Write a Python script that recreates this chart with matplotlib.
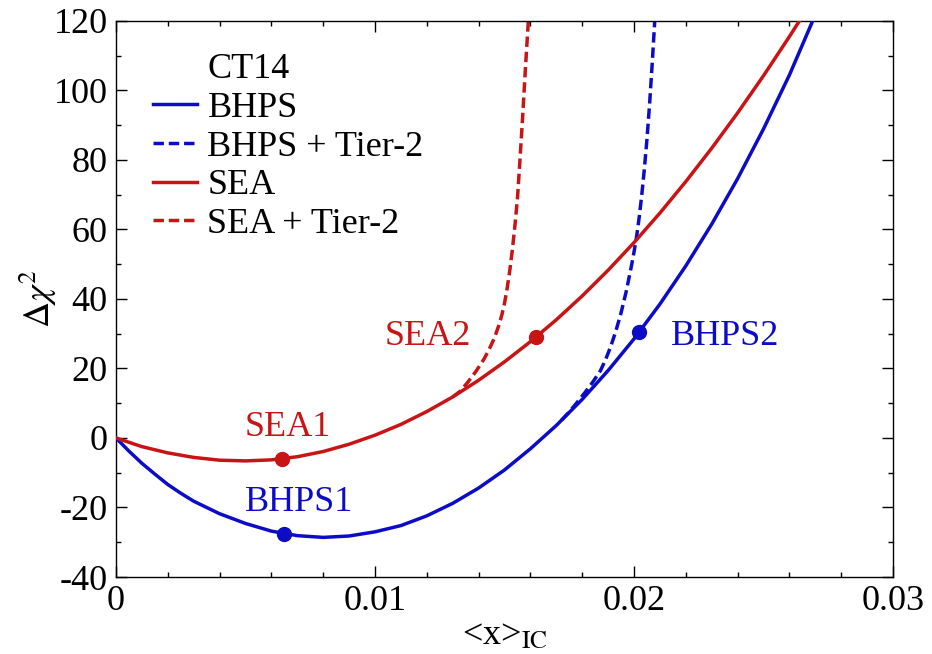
import matplotlib
matplotlib.use("Agg")
import matplotlib.pyplot as plt
from matplotlib.ticker import MultipleLocator

plt.rcParams['font.family'] = ['Liberation Serif', 'DejaVu Serif']
plt.rcParams['mathtext.fontset'] = 'stix'
plt.rcParams['font.size'] = 26
plt.rcParams['axes.unicode_minus'] = False

blue = '#0c0cc8'
red = '#c81414'
lw = 2.5
dash = (3.0, 1.4)

# delta chi^2 scans vs intrinsic charm momentum fraction
bhps_x = [0, 0.0005, 0.001, 0.0015, 0.002, 0.0025, 0.003, 0.004, 0.005, 0.006,
          0.007, 0.008, 0.009, 0.010, 0.011, 0.012, 0.013, 0.014, 0.015,
          0.016, 0.017, 0.018, 0.019, 0.020, 0.021, 0.022, 0.023, 0.024,
          0.025, 0.026, 0.0269]
bhps_y = [0, -3.8, -7.3, -10.4, -13.4, -15.9, -18.2, -21.8, -24.6, -26.8,
          -28.1, -28.6, -28.2, -27.0, -25.2, -22.4, -18.8, -14.4, -9.2,
          -3.1, 3.6, 11.1, 19.4, 28.5, 38.5, 49.5, 61.5, 74.6,
          88.9, 104.4, 120.0]

bhps_t2_x = [0.0172, 0.0175, 0.0178, 0.0181, 0.0184, 0.0187, 0.0189, 0.0191,
             0.0193, 0.0195, 0.0197, 0.0199, 0.0200, 0.0201, 0.0202, 0.0203,
             0.0204, 0.0205, 0.0206, 0.0207, 0.0208]
bhps_t2_y = [5.1, 7.5, 10.2, 13.0, 16.0, 19.3, 22.5, 26.3,
             30.8, 36.0, 42.2, 49.5, 53.5, 58.0, 63.5, 70.0,
             77.5, 86.0, 96.0, 107.5, 120.0]

sea_x = [0, 0.001, 0.002, 0.003, 0.004, 0.005, 0.006, 0.007, 0.008, 0.009,
         0.010, 0.011, 0.012, 0.013, 0.014, 0.015, 0.016, 0.017, 0.018,
         0.019, 0.020, 0.021, 0.022, 0.023, 0.024, 0.025, 0.026, 0.0265]
sea_y = [0, -2.5, -4.3, -5.6, -6.4, -6.6, -6.3, -5.4, -3.9, -1.8,
         0.8, 3.9, 7.6, 11.8, 16.6, 21.9, 27.7, 34.0, 40.85,
         48.25, 56.2, 64.7, 73.75, 83.35, 93.5, 104.2, 115.45, 121.3]

sea_t2_x = [0.0130, 0.0133, 0.0136, 0.0139, 0.0142, 0.0144, 0.0146, 0.0148,
            0.0149, 0.0150, 0.0151, 0.0152, 0.0153, 0.0154, 0.0155, 0.0156,
            0.0157, 0.0158, 0.01592]
sea_t2_y = [11.8, 13.5, 16.2, 19.2, 22.6, 25.4, 28.6, 32.8,
            35.5, 38.8, 43.0, 48.0, 54.0, 61.0, 69.0, 80.5,
            92.5, 105.5, 120.0]

# fit points
pt_names = ['SEA1', 'BHPS1', 'SEA2', 'BHPS2']
pt_x = [0.0064, 0.0065, 0.0162, 0.0202]
pt_y = [-6.0, -27.5, 29.0, 30.5]
pt_colors = [red, blue, red, blue]
lab_x = [0.00662, 0.00705, 0.01203, 0.02351]
lab_y = [0.6, -20.9, 26.6, 26.6]

fig = plt.figure(figsize=(9.32, 6.54), dpi=100)
ax = fig.add_axes([0.1245, 0.1177, 0.8337, 0.8506])

ax.plot([], [], color='none', label='CT14')
ax.plot(bhps_t2_x, bhps_t2_y, color=blue, lw=lw, dashes=dash, zorder=2)
ax.plot(sea_t2_x, sea_t2_y, color=red, lw=lw, dashes=dash, zorder=2)
ax.plot(bhps_x, bhps_y, color=blue, lw=lw, zorder=3)
ax.plot(sea_x, sea_y, color=red, lw=lw, zorder=3)

# legend handles
ax.plot([], [], color=blue, lw=lw, label='BHPS')
ax.plot([], [], color=blue, lw=lw, dashes=dash, label='BHPS + Tier-2')
ax.plot([], [], color=red, lw=lw, label='SEA')
ax.plot([], [], color=red, lw=lw, dashes=dash, label='SEA + Tier-2')

for px, py, c in zip(pt_x, pt_y, pt_colors):
    ax.plot(px, py, 'o', color=c, ms=10, zorder=4)
for name, tx, ty, c in zip(pt_names, lab_x, lab_y, pt_colors):
    ax.text(tx, ty, name, color=c, ha='center', va='baseline')

handles, labels = ax.get_legend_handles_labels()
keep = [i for i, l in enumerate(labels) if not l.startswith('_')]
ax.legend([handles[i] for i in keep], [labels[i] for i in keep],
          loc='upper left', bbox_to_anchor=(0.048, 0.942), frameon=False,
          handlelength=1.2, handletextpad=0.3, labelspacing=0.15,
          borderpad=0, borderaxespad=0)

ax.set_xlim(0, 0.03)
ax.set_ylim(-40, 120)
ax.xaxis.set_major_locator(MultipleLocator(0.01))
ax.xaxis.set_minor_locator(MultipleLocator(0.002))
ax.yaxis.set_major_locator(MultipleLocator(20))
ax.yaxis.set_minor_locator(MultipleLocator(10))
ax.set_xticks([0, 0.01, 0.02, 0.03])
ax.set_xticklabels(['0', '0.01', '0.02', '0.03'])
ax.tick_params(which='both', direction='in', top=True, right=True, width=1.0)
ax.tick_params(which='major', length=8, pad=6)
ax.tick_params(which='minor', length=3.6)
for s in ax.spines.values():
    s.set_linewidth(1.0)

ax.set_xlabel(r'<x>$_{\mathrm{IC}}$')
ax.xaxis.set_label_coords(0.5, -0.075)
ax.set_ylabel(r'$\Delta\chi^2$')
ax.yaxis.set_label_coords(-0.073, 0.5)

fig.savefig('out.png', dpi=100)
